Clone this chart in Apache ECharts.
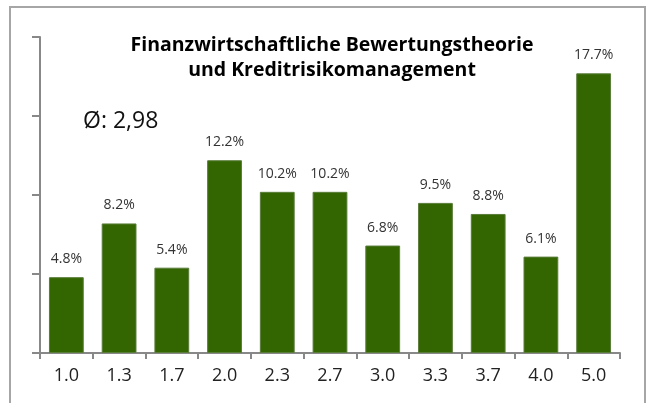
<!DOCTYPE html>
<html>
<head>
<meta charset="utf-8">
<script src="https://cdn.jsdelivr.net/npm/echarts@6/dist/echarts.min.js"></script>
<style>
  html, body { margin: 0; padding: 0; background: #fff; }
  #chart { width: 649px; height: 403px; }
</style>
</head>
<body>
<div id="chart"></div>
<script>
// Noten und Anteile
let grades = ['1.0', '1.3', '1.7', '2.0', '2.3', '2.7', '3.0', '3.3', '3.7', '4.0', '5.0']
let shares = [4.8, 8.2, 5.4, 12.2, 10.2, 10.2, 6.8, 9.5, 8.8, 6.1, 17.7]
let titleLines = ['Finanzwirtschaftliche Bewertungstheorie', 'und Kreditrisikomanagement']
let avgText = 'Ø: 2,98'

var chart = echarts.init(document.getElementById('chart'))

let font = '"Open Sans", "Noto Sans", sans-serif'

chart.setOption({
  animation: false,
  textStyle: { fontFamily: font },
  title: {
    text: titleLines.join('\n'),
    left: 327,
    textAlign: 'center',
    top: 28,
    textStyle: { fontSize: 19.5, fontWeight: 'bold', color: '#000', lineHeight: 25, fontFamily: font }
  },
  graphic: [
    {
      type: 'rect',
      shape: { x: 10, y: 7, width: 635, height: 420 },
      style: { fill: 'none', stroke: '#a6a6a6', lineWidth: 2 },
      silent: true
    },
    {
      type: 'text',
      left: 83,
      top: 110,
      style: { text: avgText, fontSize: 23, fill: '#111', fontFamily: font }
    }
  ],
  grid: { left: 40, right: 29, top: 37, bottom: 50 },
  xAxis: {
    type: 'category',
    data: grades,
    axisLine: { lineStyle: { color: '#888', width: 2 } },
    axisTick: { show: true, length: 6, lineStyle: { color: '#888', width: 2 } },
    axisLabel: { fontSize: 18, color: '#222', margin: 14, fontFamily: font }
  },
  yAxis: {
    type: 'value',
    min: 0,
    max: 20,
    interval: 5,
    axisLine: { show: true, lineStyle: { color: '#888', width: 2 } },
    axisTick: { show: true, length: 8, lineStyle: { color: '#888', width: 2 } },
    axisLabel: { show: false },
    splitLine: { show: false }
  },
  series: [
    {
      type: 'bar',
      data: shares,
      barWidth: '66%',
      itemStyle: { color: '#336600', borderColor: '#5a7d3a', borderWidth: 1 },
      label: {
        show: true,
        position: 'top',
        distance: 11,
        fontSize: 14,
        color: '#333',
        fontFamily: font,
        formatter: p => p.value.toFixed(1) + '%'
      }
    }
  ]
})
</script>
</body>
</html>
